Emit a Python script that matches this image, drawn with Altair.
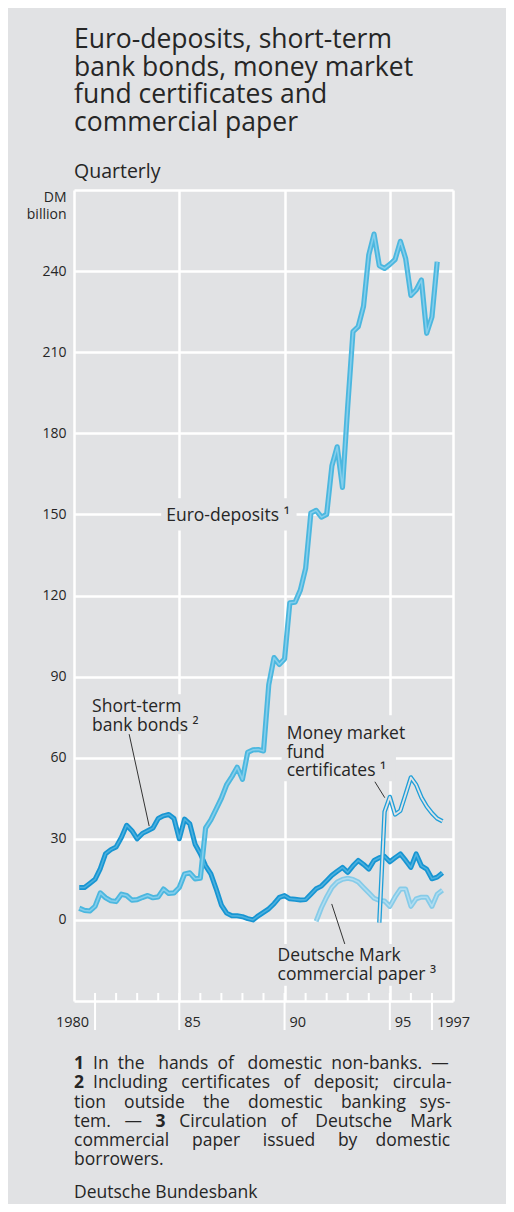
import altair as alt
import pandas as pd

BG = "#e1e2e4"
FONT = "Open Sans"
INK = "#262626"

# ---------------- data (DM billion, end of quarter) ----------------
euro_start = (1980, 1)
euro_deposits = [4.3, 3.5, 3.3, 5.0, 10.0, 8.2, 7.1, 6.8, 9.5, 9.0, 7.3, 7.5,
                 8.3, 9.0, 8.2, 8.5, 11.4, 9.8, 10.0, 12.0, 17.0, 17.4, 15.2, 15.4,
                 34.0, 37.0, 41.0, 45.0, 50.0, 53.0, 56.5, 52.0, 62.0, 62.9, 63.0, 62.5,
                 87.0, 97.0, 94.5, 96.5, 117.3, 117.5, 122.0, 130.0, 150.5, 151.5, 149.0, 150.0,
                 168.0, 175.0, 160.0, 190.0, 217.6, 219.5, 227.0, 246.0, 253.7, 242.0, 241.0, 242.5,
                 244.3, 251.0, 244.7, 231.0, 233.0, 236.7, 217.0, 223.0, 243.5]

bonds_start = (1980, 1)
short_term_bonds = [12, 12, 13.5, 15, 19, 24.5, 26, 27, 30.5, 35, 33, 30,
                    32, 33, 34, 37.5, 38.5, 39, 37.5, 30, 37.3, 35.5, 28, 24.5,
                    20, 17, 11.5, 5.5, 2.5, 1.5, 1.5, 1.2, 0.5, 0, 1.5, 2.8,
                    4.1, 6, 8.3, 9, 7.8, 7.6, 7.4, 7.5, 9.5, 11.5, 12.5, 14.5,
                    16.5, 18, 19.4, 17.6, 20, 22, 20.5, 18.8, 22, 23, 23.5, 21.5,
                    23, 24.4, 22, 19.4, 24.4, 20, 18.8, 15.2, 15.8, 17.4]

cp_start = (1991, 2)
commercial_paper = [-0.5, 4.5, 8.5, 12, 14, 15, 15.4, 15, 14, 12, 10, 8, 7.2,
                    7, 5, 8.5, 11.4, 11.4, 5, 7.8, 8.4, 8.4, 5, 9.5, 11]

mmf_start = (1994, 2)
money_market_funds = [-1, 40, 45.5, 39, 40.4, 46.5, 52.7, 50, 45.3, 42, 39.5, 37.5, 36.5]

y_ticks = [-30, 0, 30, 60, 90, 120, 150, 180, 210, 240, 270]
x_grid = [1980, 1985, 1990, 1995, 1998]
minor_years = list(range(1981, 1998))
long_tick_years = [1981, 1985, 1990, 1995, 1997]
x_label_years = [1985, 1990, 1995, 1997]
x_label_text = ["85", "90", "95", "1997"]
first_label_year = [1981]
first_label_text = ["1980"]

series_labels = ["Euro-deposits \u00b9", "Short-term\nbank bonds \u00b2",
                 "Money market\nfund\ncertificates \u00b9", "Deutsche Mark\ncommercial paper \u00b3"]
label_t = [1984.38, 1980.86, 1990.1, 1989.67]
label_v = [149.5, 78.8, 68.8, -13.5]   # first line of each label

# gaps in the grid behind the labels (data units)
box_t1 = [1984.14, 1980.62, 1989.86, 1989.52]
box_t2 = [1990.57, 1986.29, 1995.29, 1997.62]
box_v1 = [144, 68.7, 51.3, -24.4]
box_v2 = [156, 83.5, 75.7, -8.9]

# leader lines (data units)
lead_t1 = [1982.62, 1994.29, 1992.24]
lead_v1 = [68.7, 51.1, 5.9]
lead_t2 = [1983.57, 1994.76, 1992.86]
lead_v2 = [34.7, 45.2, -8.9]

title_text = "Euro-deposits, short-term\nbank bonds, money market\nfund certificates and\ncommercial paper"
NB = "\u00a0"
FIG = "\u2007"


def spread(words, extra):
    """join words, widening each gap by the given number of no-break spaces (justified look)"""
    out = words[0]
    for w, k in zip(words[1:], extra):
        out += " " + NB * k + w
    return out


note_a = "\n".join([
    spread(["In", "the", "hands", "of", "domestic", "non-banks.", "\u2014"], [1, 2, 1, 2, 1, 1]),
    spread(["Including", "certificates", "of", "deposit;", "circula-"], [2, 2, 2, 2]),
])
note_b = "\n".join([
    spread(["tion", "outside", "the", "domestic", "banking", "sys-"], [3, 3, 3, 3, 2]),
    "tem." + NB * 3 + "\u2014" + NB * 3 + FIG + NB * 3
    + spread(["Circulation", "of", "Deutsche", "Mark"], [2, 3, 3]),
    spread(["commercial", "paper", "issued", "by", "domestic"], [4, 4, 4, 3]),
    "borrowers.",
])


def quarterly(start, values):
    y0, q0 = start
    return pd.DataFrame({
        "t": [y0 + (q0 + i) / 4 for i in range(len(values))],
        "v": values,
    })


X = alt.X("t:Q", scale=alt.Scale(domain=[1980, 1998], nice=False, zero=False),
          axis=alt.Axis(values=x_grid, grid=True, labels=False, ticks=False, domain=False, title=None))
Y = alt.Y("v:Q", scale=alt.Scale(domain=[-30, 270], nice=False, zero=False),
          axis=alt.Axis(values=y_ticks, grid=True, ticks=False, domain=False,
                        labelExpr="datum.value < 0 || datum.value > 250 ? '' : datum.label",
                        labelPadding=8, labelFontSize=14, labelColor=INK, labelFont=FONT,
                        title=["DM", "billion"], titleAngle=0, titleAlign="right",
                        titleBaseline="top", titleX=-8, titleY=0, titleFontSize=14,
                        titleFontWeight="normal", titleFont=FONT, titleColor=INK,
                        titleLineHeight=17))

boxes = alt.Chart(pd.DataFrame({"t": box_t1, "t2": box_t2, "v": box_v1, "v2": box_v2})).mark_rect(
    color=BG).encode(x=X, x2="t2:Q", y=Y, y2="v2:Q")


def styled_line(df, outer, inner, w_out, w_in):
    base = alt.Chart(df).encode(x="t:Q", y="v:Q")
    return [base.mark_line(color=outer, strokeWidth=w_out, strokeJoin="round"),
            base.mark_line(color=inner, strokeWidth=w_in, strokeJoin="round")]


layers = [boxes]
layers += styled_line(quarterly(bonds_start, short_term_bonds), "#1795d2", "#4cb0de", 5, 1.6)
layers += styled_line(quarterly(cp_start, commercial_paper), "#86cbe8", "#b0ddf1", 5, 1.6)
layers += styled_line(quarterly(euro_start, euro_deposits), "#4bb7df", "#85ceec", 5.2, 1.6)
layers += styled_line(quarterly(mmf_start, money_market_funds), "#1e9fd9", BG, 4.4, 1.8)

leaders = alt.Chart(pd.DataFrame({"t": lead_t1, "v": lead_v1, "t2": lead_t2, "v2": lead_v2})).mark_rule(
    color="#333333", strokeWidth=1).encode(x="t:Q", y="v:Q", x2="t2:Q", y2="v2:Q")
layers.append(leaders)

labels = alt.Chart(pd.DataFrame({"t": label_t, "v": label_v, "s": series_labels})).mark_text(
    align="left", baseline="middle", font=FONT, fontSize=17.5, color=INK,
    lineBreak="\n", lineHeight=18.7).encode(x="t:Q", y="v:Q", text="s:N")
layers.append(labels)

minor = alt.Chart(pd.DataFrame({"t": minor_years})).mark_rule(color="white", strokeWidth=2).encode(
    x="t:Q", y=alt.value(811), y2=alt.value(803))
long_ticks = alt.Chart(pd.DataFrame({"t": long_tick_years})).mark_rule(color="white", strokeWidth=2).encode(
    x="t:Q", y=alt.value(811), y2=alt.value(840))
xlab = alt.Chart(pd.DataFrame({"t": x_label_years, "s": x_label_text})).mark_text(
    align="left", baseline="middle", dx=5, font=FONT, fontSize=14.5, color=INK).encode(
    x="t:Q", y=alt.value(833), text="s:N")
xlab0 = alt.Chart(pd.DataFrame({"t": first_label_year, "s": first_label_text})).mark_text(
    align="right", baseline="middle", dx=-6, font=FONT, fontSize=14.5, color=INK).encode(
    x="t:Q", y=alt.value(833), text="s:N")
layers += [minor, long_ticks, xlab, xlab0]

one = pd.DataFrame({"a": [0]})


def txt(s, x, y, size, weight="normal", lh=None):
    kw = {}
    if lh is not None:
        kw = {"lineBreak": "\n", "lineHeight": lh}
    return alt.Chart(one).mark_text(text=s, align="left", baseline="middle", font=FONT,
                                    fontSize=size, fontWeight=weight, color=INK, **kw).encode(
        x=alt.value(x), y=alt.value(y))


FN = 17.5
LH = 19.3
F0 = 874
layers += [
    txt(title_text, 0, -150, 26.5, lh=27.5),
    txt("Quarterly", 0, -18, 19.5),
    txt("1\n2", 0, F0, FN, "bold", lh=LH),
    txt(note_a, 19, F0, FN, lh=LH),
    txt(note_b, 0, F0 + 2 * LH, FN, lh=LH),
    txt("3", 81.5, F0 + 3 * LH, FN, "bold"),
    txt("Deutsche Bundesbank", 0, 1003, FN),
]

chart = alt.layer(*layers).encode(x=X, y=Y).properties(
    width=379, height=811,
    padding={"left": 66, "top": 182, "right": 53, "bottom": 203},
    autosize=alt.AutoSizeParams(type="none"),
    background=BG,
).configure_view(strokeWidth=0).configure_axis(
    gridColor="white", gridWidth=2.5, gridOpacity=1)

chart.save("out.html", embed_options={"renderer": "svg", "actions": False})
